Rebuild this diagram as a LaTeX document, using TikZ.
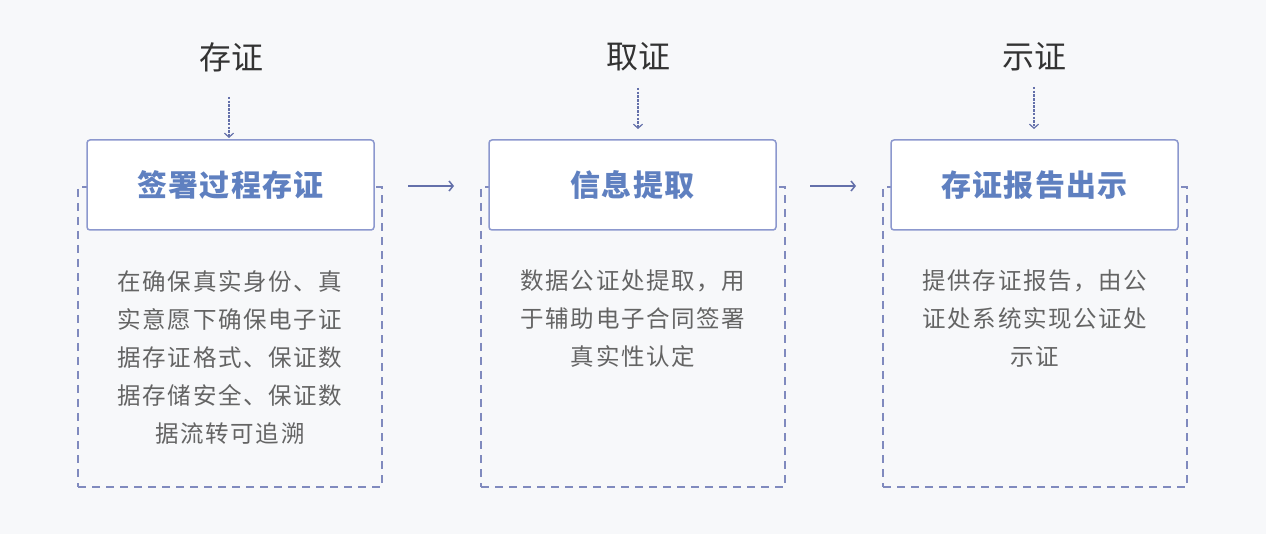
\documentclass[tikz,border=0pt]{standalone}
\usepackage{fontspec}
\setmainfont{Liberation Sans}
\newfontfamily\cjk{Noto Sans CJK SC}
\usetikzlibrary{arrows.meta}
\definecolor{bgc}{RGB}{247,248,250}
\definecolor{hborder}{RGB}{140,152,206}
\definecolor{dborder}{RGB}{128,138,190}
\definecolor{htext}{RGB}{95,128,192}
\definecolor{btext}{RGB}{100,100,100}
\definecolor{ttext}{RGB}{51,51,51}
\definecolor{arr}{RGB}{100,112,170}
\begin{document}
\begin{tikzpicture}[x=1pt,y=-1pt,
  headbox/.style={draw=hborder,line width=1.5pt,fill=white,rounded corners=3pt,minimum width=287pt,minimum height=90pt,inner sep=0pt,font=\cjk\fontsize{30}{32}\selectfont\bfseries\addfontfeature{LetterSpace=4},text=htext},
  dashbox/.style={draw=dborder,line width=1.3pt,dash pattern=on 8pt off 6pt,minimum width=304pt,minimum height=300pt,inner sep=0pt},
  toplabel/.style={font=\cjk\fontsize{32}{34}\selectfont,text=ttext,inner sep=0pt},
  bodytext/.style={font=\cjk\fontsize{23.5}{38}\selectfont\addfontfeature{LetterSpace=7},text=btext,align=center,inner sep=0pt},
  downarrow/.style={draw=arr,line width=1.2pt,dash pattern=on 2.5pt off 1.2pt,-{Straight Barb[length=4pt,width=9pt]}},
  rightarrow/.style={draw=arr,line width=1.5pt,-{Straight Barb[length=4pt,width=10pt]}}
]
\fill[bgc] (0,0) rectangle (1266,534);
\useasboundingbox (0,0) rectangle (1266,534);

% dashed boxes
\node[dashbox] (d1) at (230,337) {};
\node[dashbox] (d2) at (633,337) {};
\node[dashbox] (d3) at (1035,337) {};

% header boxes
\node[headbox] (h1) at (230.5,185) {签署过程存证};
\node[headbox] (h2) at (632.5,185) {信息提取};
\node[headbox] (h3) at (1034.5,185) {存证报告出示};

% top labels
\node[toplabel] (t1) at (231,57) {存证};
\node[toplabel] (t2) at (638,57) {取证};
\node[toplabel] (t3) at (1034,57) {示证};

% down arrows
\coordinate (a1s) at (229,97);
\coordinate (a1e) at (229,138);
\coordinate (a2s) at (638,88);
\coordinate (a2e) at (638,129);
\coordinate (a3s) at (1034,87);
\coordinate (a3e) at (1034,129);
\draw[downarrow] (a1s) -- (a1e);
\draw[downarrow] (a2s) -- (a2e);
\draw[downarrow] (a3s) -- (a3e);

% right arrows
\coordinate (r1s) at (408,186);
\coordinate (r1e) at (454,186);
\coordinate (r2s) at (810,186);
\coordinate (r2e) at (856,186);
\draw[rightarrow] (r1s) -- (r1e);
\draw[rightarrow] (r2s) -- (r2e);

% body texts
\node[bodytext,anchor=north] (b1) at (230,270) {在确保真实身份、真\\实意愿下确保电子证\\据存证格式、保证数\\据存储安全、保证数\\据流转可追溯};
\node[bodytext,anchor=north] (b2) at (633,270) {数据公证处提取，用\\于辅助电子合同签署\\真实性认定};
\node[bodytext,anchor=north] (b3) at (1035,270) {提供存证报告，由公\\证处系统实现公证处\\示证};
\end{tikzpicture}
\end{document}
